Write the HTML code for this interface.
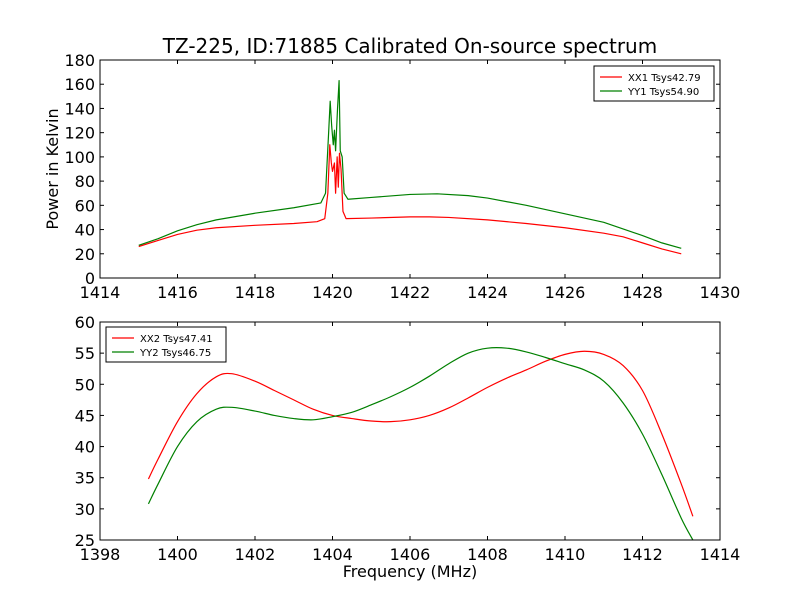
<!DOCTYPE html>
<html><head><meta charset="utf-8"><style>
body{margin:0;background:#fff}
svg{display:block;font-family:"DejaVu Sans","Liberation Sans",sans-serif}
</style></head><body>
<svg id="c" width="800" height="600"></svg>
<script>
const topFreqXX1=[1415,1415.5,1416,1416.5,1417,1418,1419,1419.6,1419.8,1419.88,1419.93,1419.97,1420.0,1420.05,1420.08,1420.12,1420.15,1420.18,1420.22,1420.27,1420.35,1421,1422,1422.5,1423,1424,1425,1426,1427,1427.5,1428,1428.5,1429];
const topValsXX1=[26,31,36,39.5,41.5,43.5,45,46.5,49,70,110,95,88,95,70,100,75,103,90,55,49,49.5,50.5,50.5,50,48,45,41.5,37,34,29,24,20];
const topFreqYY1=[1415,1415.5,1416,1416.5,1417,1418,1419,1419.7,1419.82,1419.9,1419.94,1419.98,1420.02,1420.05,1420.08,1420.13,1420.17,1420.2,1420.25,1420.3,1420.4,1421,1422,1422.7,1423.5,1424,1425,1426,1427,1428,1428.5,1429];
const topValsYY1=[27,32.5,39,44,48,53.5,58,62,70,120,146,125,110,122,105,140,163,105,100,70,65,66.5,69,69.5,68,66,60,53,46,35,29,24.5];
const botFreq=[1399.25,1399.5,1400,1400.5,1401,1401.4,1402,1402.5,1403,1403.5,1404,1404.5,1405,1405.5,1406,1406.5,1407,1407.5,1408,1408.5,1409,1409.5,1410,1410.5,1411,1411.5,1412,1412.5,1413,1413.3];
const botValsXX2=[34.8,38,44,48.5,51.2,51.7,50.5,49,47.5,46,45,44.5,44.1,44,44.3,45,46.2,47.8,49.5,51,52.3,53.7,54.8,55.3,54.8,53,49,42,34,28.8];
const botValsYY2=[30.8,34,40,44,46,46.3,45.7,45,44.5,44.3,44.8,45.5,46.7,48,49.5,51.3,53.3,55,55.8,55.8,55.2,54.3,53.3,52.3,50.5,47,42,35.5,28.5,25];
const topXTicks=[1414,1416,1418,1420,1422,1424,1426,1428,1430];
const topYTicks=[0,20,40,60,80,100,120,140,160,180];
const botXTicks=[1398,1400,1402,1404,1406,1408,1410,1412,1414];
const botYTicks=[25,30,35,40,45,50,55,60];

const svg=document.getElementById('c');
const NS='http://www.w3.org/2000/svg';
function mk(t,a,p){const e=document.createElementNS(NS,t);for(const k in a)e.setAttribute(k,a[k]);(p||svg).appendChild(e);return e;}
function smoothPath(pts){
  let d='M'+pts[0][0].toFixed(2)+','+pts[0][1].toFixed(2);
  for(let i=0;i<pts.length-1;i++){
    const p0=pts[Math.max(0,i-1)],p1=pts[i],p2=pts[i+1],p3=pts[Math.min(pts.length-1,i+2)];
    const c1=[p1[0]+(p2[0]-p0[0])/6,p1[1]+(p2[1]-p0[1])/6];
    const c2=[p2[0]-(p3[0]-p1[0])/6,p2[1]-(p3[1]-p1[1])/6];
    d+=' C'+c1[0].toFixed(2)+','+c1[1].toFixed(2)+' '+c2[0].toFixed(2)+','+c2[1].toFixed(2)+' '+p2[0].toFixed(2)+','+p2[1].toFixed(2);
  }
  return d;
}
function panel(name,top,x0,x1,y0,y1,xt,yt,series,legend,legPos,clipId,smooth){
  const L=100,R=720,T=top,B=top+218;
  const sx=v=>L+(v-x0)/(x1-x0)*(R-L), sy=v=>B-(v-y0)/(y1-y0)*(B-T);
  const g=mk('g',{});
  
  
  const cp=mk('clipPath',{id:clipId},g);mk('rect',{x:L,y:T,width:R-L,height:B-T},cp);
  series.forEach(s=>{
    const pts=s.f.map((f,i)=>[sx(f),sy(s.v[i])]);
    const d=smooth?smoothPath(pts):'M'+pts.map(p=>p[0].toFixed(2)+','+p[1].toFixed(2)).join(' L');
    const p=mk('path',{d:d,fill:'none',stroke:s.c,'stroke-width':1.2,'stroke-linejoin':'round','clip-path':'url(#'+clipId+')'},g);
    
    
  });
  mk('rect',{x:L,y:T,width:R-L,height:B-T,fill:'none',stroke:'#000','stroke-width':1},g);
  xt.forEach(v=>{const x=sx(v);mk('line',{x1:x,x2:x,y1:B,y2:B-4,stroke:'#000'},g);mk('line',{x1:x,x2:x,y1:T,y2:T+4,stroke:'#000'},g);
    const t=mk('text',{x:x,y:B+20,'text-anchor':'middle','font-size':16},g);t.textContent=v;
    });
  yt.forEach(v=>{const y=sy(v);mk('line',{x1:L,x2:L+4,y1:y,y2:y,stroke:'#000'},g);mk('line',{x1:R,x2:R-4,y1:y,y2:y,stroke:'#000'},g);
    const t=mk('text',{x:L-5,y:y+6,'text-anchor':'end','font-size':16},g);t.textContent=v;
    });
  const lg=mk('g',{},g);
  
  
  mk('rect',{x:legPos[0],y:legPos[1],width:120,height:35,fill:'#fff',stroke:'#000','stroke-width':1},lg);
  legend.forEach((l,i)=>{const y=legPos[1]+11+i*14;
    mk('line',{x1:legPos[0]+6,x2:legPos[0]+28,y1:y,y2:y,stroke:l.c,'stroke-width':1.2},lg);
    const t=mk('text',{x:legPos[0]+34,y:y+4,'font-size':10},lg);t.textContent=l.t;});
}
panel('top-plot',60,1414,1430,0,180,topXTicks,topYTicks,
  [{f:topFreqXX1,v:topValsXX1,c:'#ff0000',name:'xx1-line'},{f:topFreqYY1,v:topValsYY1,c:'#008000',name:'yy1-line'}],
  [{t:'XX1 Tsys42.79',c:'#ff0000'},{t:'YY1 Tsys54.90',c:'#008000'}],[594,66],'cp1',false);
panel('bottom-plot',322,1398,1414,25,60,botXTicks,botYTicks,
  [{f:botFreq,v:botValsXX2,c:'#ff0000',name:'xx2-line'},{f:botFreq,v:botValsYY2,c:'#008000',name:'yy2-line'}],
  [{t:'XX2 Tsys47.41',c:'#ff0000'},{t:'YY2 Tsys46.75',c:'#008000'}],[106,327],'cp2',true);
let t=mk('text',{x:410,y:53,'text-anchor':'middle','font-size':20});t.textContent='TZ-225, ID:71885 Calibrated On-source spectrum';

t=mk('text',{x:58,y:169,'text-anchor':'middle','font-size':16,transform:'rotate(-90 58 169)'});t.textContent='Power in Kelvin';

t=mk('text',{x:410,y:577,'text-anchor':'middle','font-size':16});t.textContent='Frequency (MHz)';

</script>
</body></html>
